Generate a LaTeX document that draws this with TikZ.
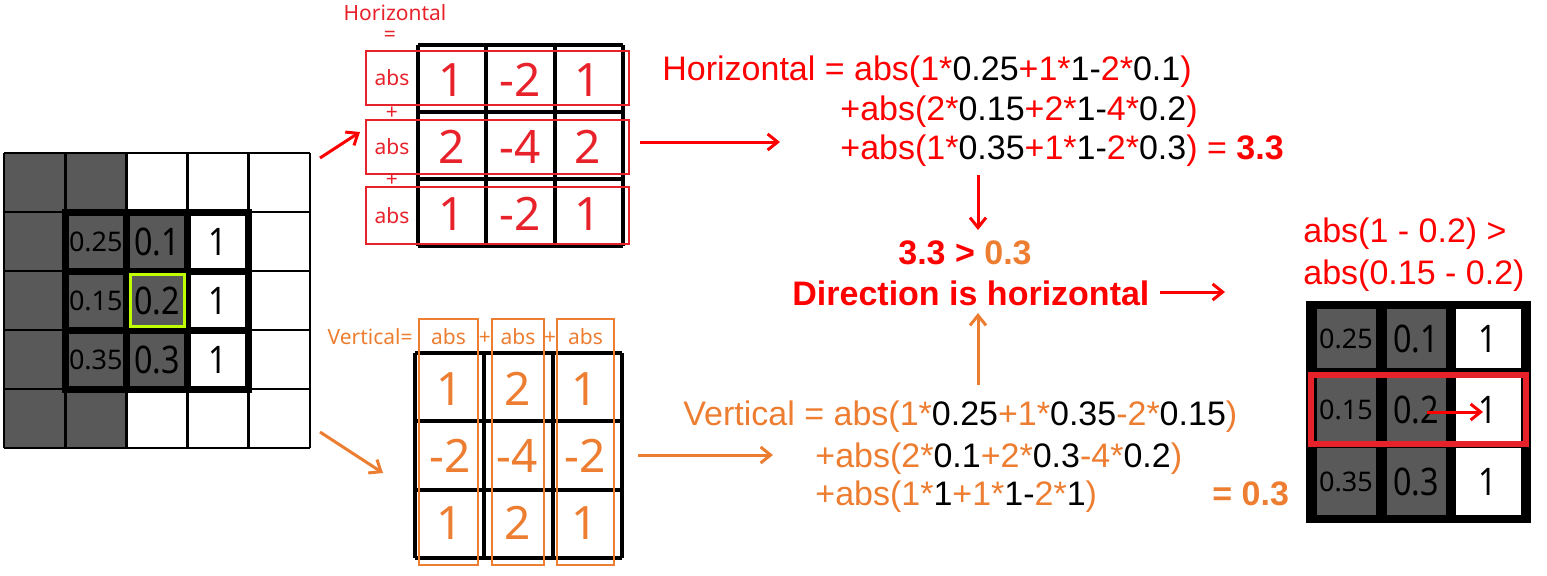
\documentclass[tikz,border=0pt]{standalone}
\usepackage{fontspec}
\setmainfont{Liberation Sans}
\newfontfamily\cellfont{Noto Sans}
\newfontfamily\cellfontn[FakeStretch=0.85]{Noto Sans}
\usetikzlibrary{arrows.meta}
\definecolor{redmain}{HTML}{FF0000}
\definecolor{redkern}{HTML}{E8222B}
\definecolor{orangeacc}{HTML}{ED7D31}
\definecolor{graycell}{HTML}{595959}
\definecolor{limebox}{HTML}{BFFF00}
\newcommand{\bk}[1]{\textcolor{black}{#1}}
\tikzset{
  formula/.style={anchor=base west,inner sep=0pt,font=\fontsize{17}{20}\selectfont},
  kernnum/.style={inner sep=0pt,font=\cellfont\fontsize{23}{26}\selectfont},
  smallnum/.style={inner sep=0pt,font=\cellfont\fontsize{13.5}{15}\selectfont},
  bignum/.style={inner sep=0pt,font=\cellfontn\fontsize{19}{21}\selectfont},
  abslabel/.style={inner sep=0pt,font=\cellfont\fontsize{10.5}{12}\selectfont},
  redarrow/.style={redmain,line width=1.5pt,-{Straight Barb[length=5pt,width=8pt]}},
  orangearrow/.style={orangeacc,line width=1.5pt,-{Straight Barb[length=5pt,width=8pt]}}
}

\begin{document}
\begin{tikzpicture}[x=0.5pt,y=-0.5pt]
  \useasboundingbox (0,0) rectangle (1547,575);
  % image patch 5x5
  \begin{scope}
    \fill[graycell] (4,153) rectangle (126.4,448);
    \fill[graycell] (126.4,212) rectangle (187.6,389);
    \foreach \i in {0,...,5} {
      \draw[line width=1.4pt] ({4+61.2*\i},153)--({4+61.2*\i},448);
      \draw[line width=1.4pt] (4,{153+59*\i})--(310,{153+59*\i});
    }
    \draw[line width=3.5pt] (65.2,212) rectangle (248.8,389);
    \foreach \i in {1,2} {
      \draw[line width=3.5pt] ({65.2+61.2*\i},212)--({65.2+61.2*\i},389);
      \draw[line width=3.5pt] (65.2,{212+59*\i})--(248.8,{212+59*\i});
    }
    \draw[limebox,line width=1.5pt] (130,274.5) rectangle (184,326.5);
    \foreach \v/\r [count=\k] in {0.25/1,0.15/2,0.35/3}
      \node[smallnum] (gs\k) at (95.8,{153+59*(\r+0.5)}) {\v};
    \foreach \v/\c/\r [count=\k] in {0.1/2/1,0.2/2/2,0.3/2/3,1/3/1,1/3/2,1/3/3}
      \node[bignum] (gb\k) at ({4+61.2*(\c+0.5)},{153+59*(\r+0.5)}) {\v};
  \end{scope}
  % horizontal kernel
  \begin{scope}
    \foreach \i in {0,...,3} {
      \draw[line width=2pt] ({418+68.3*\i},45)--({418+68.3*\i},246);
      \draw[line width=2pt] (418,{45+67*\i})--(623,{45+67*\i});
    }
    \foreach \yt/\yb [count=\k] in {51/105,120/174,187/244} {
      \draw[redkern,line width=1pt] (366,\yt) rectangle (629,\yb);
      \node[abslabel,redkern] (habs\k) at (392,{(\yt+\yb)/2}) {abs};
    }
    \node[abslabel,redkern] (hplus1) at (392,113) {+};
    \node[abslabel,redkern] (hplus2) at (392,180) {+};
    \node[abslabel,redkern] (heq) at (390,36) {=};
    \node[abslabel,redkern] (htitle) at (395,13) {Horizontal};
    \foreach \v/\c/\r [count=\k] in {1/0/0,-2/1/0,1/2/0,2/0/1,-4/1/1,2/2/1,1/0/2,-2/1/2,1/2/2}
      \node[kernnum,redkern] (hk\k) at ({452+68*\c},{80+67*\r}) {\v};
  \end{scope}
  % vertical kernel
  \begin{scope}
    \foreach \i in {0,...,3} {
      \draw[line width=2pt] ({415+69*\i},353)--({415+69*\i},558);
      \draw[line width=2pt] (415,{353+68.3*\i})--(622,{353+68.3*\i});
    }
    \foreach \xl/\xr [count=\k] in {419/478,492/544,557/614} {
      \draw[orangeacc,line width=1pt] (\xl,319) rectangle (\xr,565);
      \node[abslabel,orangeacc] (vabs\k) at ({(\xl+\xr)/2},337) {abs};
    }
    \node[abslabel,orangeacc] (vplus1) at (485,338) {+};
    \node[abslabel,orangeacc] (vplus2) at (550,338) {+};
    \node[abslabel,orangeacc,anchor=east] (vtitle) at (413,337) {Vertical=};
    \foreach \v/\c/\r [count=\k] in {1/0/0,2/1/0,1/2/0,-2/0/1,-4/1/1,-2/2/1,1/0/2,2/1/2,1/2/2}
      \node[kernnum,orangeacc] (vk\k) at ({450+67.5*\c},{389+67*\r}) {\v};
  \end{scope}
  % formulas
  \node[formula,redmain] (hf1) at (662,80)
    {Horizontal = abs(1*\bk{0.25}+1*\bk{1-}2*\bk{0.1})};
  \node[formula,redmain] (hf2) at (840,120)
    {+abs(2*\bk{0.15}+2*\bk{1-}4*\bk{0.2})};
  \node[formula,redmain] (hf3) at (840,159)
    {+abs(1*\bk{0.35}+1*\bk{1-}2*\bk{0.3}) = \textbf{3.3}};
  \node[formula,orangeacc] (vf1) at (683,425)
    {Vertical = abs(1*\bk{0.25}+1*\bk{0.35}-2*\bk{0.15})};
  \node[formula,orangeacc] (vf2) at (815,467)
    {+abs(2*\bk{0.1}+2*\bk{0.3}-4*\bk{0.2})};
  \node[formula,orangeacc] (vf3) at (815,505)
    {+abs(1*\bk{1}+1*\bk{1-}2*\bk{1})};
  \node[formula,orangeacc] (vres) at (1212,505) {\textbf{= 0.3}};
  \node[formula,redmain,anchor=base] (cmp) at (965,264)
    {\textbf{3.3 > \textcolor{orangeacc}{0.3}}};
  \node[formula,redmain] (dir) at (792,305) {\textbf{Direction is horizontal}};
  \node[formula,redmain] (chk1) at (1303,242) {abs(1 - 0.2) >};
  \node[formula,redmain] (chk2) at (1303,284) {abs(0.15 - 0.2)};
  % result patch
  \begin{scope}
    \fill[black] (1306,301) rectangle (1531,523);
    \foreach \yt/\yb [count=\r] in {309/368,378/441,448/515} {
      \fill[graycell] (1317,\yt) rectangle (1376,\yb);
      \fill[graycell] (1387,\yt) rectangle (1446,\yb);
      \fill[white] (1456,\yt) rectangle (1521,\yb);
    }
    \foreach \v/\y [count=\k] in {0.25/339,0.15/410,0.35/482}
      \node[smallnum] (rs\k) at (1346,\y) {\v};
    \foreach \v/\y [count=\k] in {0.1/339,0.2/410,0.3/482}
      \node[bignum] (rb\k) at (1416,\y) {\v};
    \foreach \y [count=\k] in {339,410,482}
      \node[bignum] (rw\k) at (1488,\y) {1};
    \draw[redkern,line width=3pt] (1311,375) rectangle (1526,444);
  \end{scope}
  % arrows
  \coordinate (gridNE) at (320,158);
  \coordinate (gridSE) at (320,432);
  \coordinate (hkIn) at (360,132);
  \coordinate (vkIn) at (383,473);
  \coordinate (hkOut) at (640,142);
  \coordinate (hfIn) at (780,142);
  \coordinate (vkOut) at (638,455);
  \coordinate (vfIn) at (773,455);
  \coordinate (hfOut) at (978,175);
  \coordinate (cmpIn) at (978,230);
  \coordinate (vfOut) at (978,385);
  \coordinate (dirIn) at (978,313);
  \coordinate (dirOut) at (1160,292);
  \coordinate (chkIn) at (1225,292);
  \coordinate (rArrS) at (1427,412);
  \coordinate (rArrE) at (1483,412);
  \draw[redarrow] (gridNE)--(hkIn);
  \draw[orangearrow] (gridSE)--(vkIn);
  \draw[redarrow] (hkOut)--(hfIn);
  \draw[orangearrow] (vkOut)--(vfIn);
  \draw[redarrow] (hfOut)--(cmpIn);
  \draw[orangearrow] (vfOut)--(dirIn);
  \draw[redarrow] (dirOut)--(chkIn);
  \draw[redarrow] (rArrS)--(rArrE);
\end{tikzpicture}
\end{document}
